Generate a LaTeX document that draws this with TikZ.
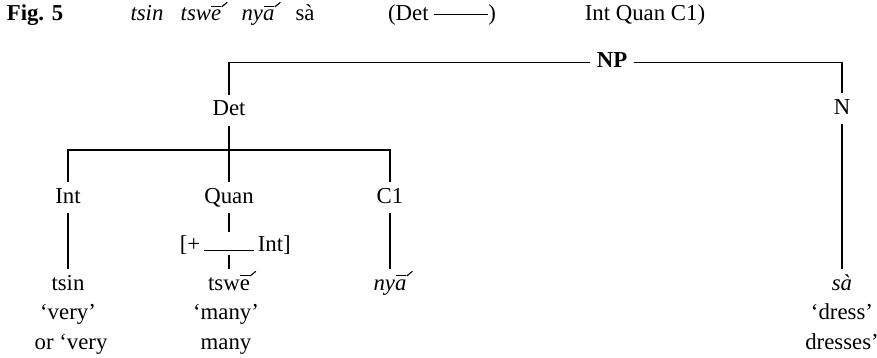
\documentclass[tikz,border=0pt]{standalone}
\usepackage{fontspec}
\setmainfont{Liberation Serif}
\usepackage{graphicx}
\usetikzlibrary{positioning}
\newcommand{\rtone}[1]{#1\llap{\rule[1.3ex]{0.45em}{0.05em}}\rlap{\raisebox{1.3ex}{\rotatebox{40}{\rule{0.32em}{0.05em}}}}}

\begin{document}
\begin{tikzpicture}[x=0.5pt,y=-0.5pt,
        every node/.style={font=\fontsize{11.4}{13}\selectfont,inner sep=3pt,
            text height=7.5pt,text depth=2pt,anchor=base},
        branch/.style={line width=0.7pt}]
    \useasboundingbox (0,0) rectangle (877,358);
    \node (fig) at (35,21) {\bfseries Fig. 5};
    \node (wtsin) at (147,21) {\itshape tsin};
    \node (wtswe) at (201,21) {\itshape tsw\rtone{e}};
    \node (wnya) at (258,21) {\itshape ny\rtone{a}};
    \node (wsa) at (305,21) {sà};
    \node (frame) at (442,21) {(Det \rule[2.8pt]{27pt}{0.6pt})};
    \node (fill) at (645,21) {Int Quan C1)};
    \node (np) at (612,68) {\bfseries NP};
    \node (det) at (229,116) {Det};
    \node (n) at (842,114) {N};
    \node (int) at (68,203) {Int};
    \node (quan) at (229,203) {Quan};
    \node (cl) at (390,203) {C1};
    \node[text depth=0pt,inner ysep=2pt] (feat) at (229,251) {\llap{[+\,}\rule{25pt}{0.6pt}\rlap{\,Int]}};
    \node (tsin) at (68,290) {tsin};
    \node (tswe) at (229,290) {tsw\rtone{e}};
    \node (nya) at (390,290) {\itshape ny\rtone{a}};
    \node (sa) at (842,290) {\itshape sà};
    \node (very) at (68,319) {`very'};
    \node (many) at (226,319) {`many'};
    \node (dress) at (842,319) {`dress'};
    \node (orvery) at (71,349) {or `very};
    \node (manyb) at (226,349) {many};
    \node (dresses) at (842,349) {dresses'};
    \coordinate (bar) at (229,150);
    \draw[branch] (det.north) |- (np.west);
    \draw[branch] (np.east) -| (n.north);
    \draw[branch] (det.south) -- (quan.north);
    \draw[branch] (int.north) |- (bar) -| (cl.north);
    \draw[branch] (int.south) -- (tsin.north);
    \draw[branch] (quan.south) -- (feat.north);
    \draw[branch] (feat.south) -- (tswe.north);
    \draw[branch] (cl.south) -- (nya.north);
    \draw[branch] (n.south) -- (sa.north);
\end{tikzpicture}
\end{document}
